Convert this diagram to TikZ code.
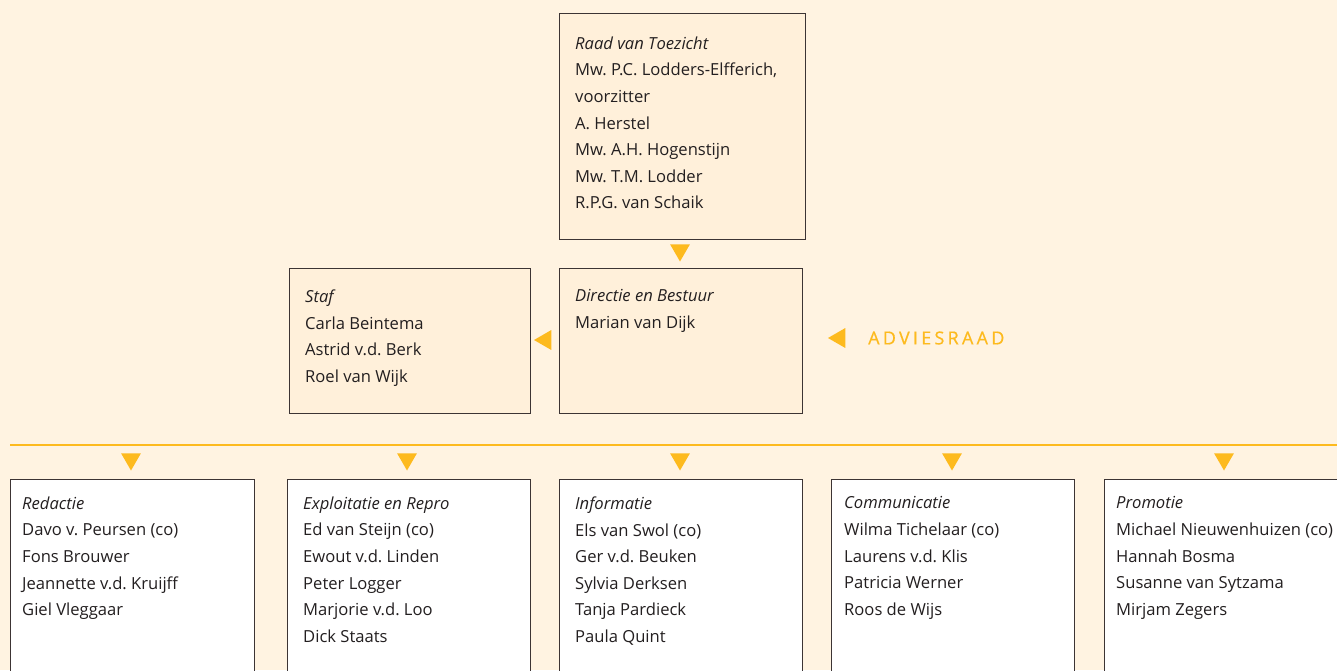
\documentclass[tikz,border=0pt]{standalone}
\usepackage{fontspec}
\setmainfont{Open Sans}
\usetikzlibrary{shapes.geometric,calc}
\definecolor{bg}{HTML}{FFF3E1}
\definecolor{topfill}{HTML}{FFF0DA}
\definecolor{gold}{HTML}{FDBA1E}
\definecolor{ink}{HTML}{231F20}
\definecolor{edge}{HTML}{3C3434}
\frenchspacing
\begin{document}
\begin{tikzpicture}[x=1pt,y=-1pt,
  box/.style={draw=edge, line width=1.2pt, anchor=north west, inner sep=0pt},
  topbox/.style={box, fill=topfill},
  botbox/.style={box, fill=white, minimum height=230pt},
  txt/.style={anchor=north west, inner sep=0pt, align=left, font=\fontsize{16.6}{26.6}\selectfont, text=ink},
  tridown/.style={regular polygon, regular polygon sides=3, shape border rotate=180, fill=gold, minimum size=23pt, inner sep=0pt},
  trileft/.style={regular polygon, regular polygon sides=3, shape border rotate=90, fill=gold, minimum size=23pt, inner sep=0pt},
]
\fill[bg] (0,0) rectangle (1337,670);
\useasboundingbox (0,0) rectangle (1337,670);
\clip (0,0) rectangle (1337,670);

% top boxes
\node[topbox, minimum width=246pt, minimum height=226pt] (raad) at (559,13) {};
\node[topbox, minimum width=241pt, minimum height=145pt] (staf) at (289,268) {};
\node[topbox, minimum width=243pt, minimum height=145pt] (dir) at (559,268) {};

\node[txt] (raadt) at ($(raad.north west)+(16,23.5)$) {\textit{Raad van Toezicht}\\Mw. P.C. Lodders-Elfferich,\\voorzitter\\A. Herstel\\Mw. A.H. Hogenstijn\\Mw. T.M. Lodder\\R.P.G. van Schaik};
\node[txt] (staft) at ($(staf.north west)+(16,21.5)$) {\textit{Staf}\\Carla Beintema\\Astrid v.d. Berk\\Roel van Wijk};
\node[txt] (dirt) at ($(dir.north west)+(16,21.5)$) {\textit{Directie en Bestuur}\\Marian van Dijk};

\node[tridown] (t0) at (680,250) {};
\node[trileft] (tl) at (545.5,340) {};
\node[trileft] (ta) at (839.5,338) {};
\node[anchor=west, inner sep=0pt, text=gold, font=\fontsize{18}{20}\selectfont\addfontfeature{LetterSpace=18,FakeBold=0.6}] (advies) at (868,338) {ADVIESRAAD};

% separator
\coordinate (lineL) at (10,445);
\coordinate (lineR) at (1337,445);
\draw[gold, line width=1.3pt] (lineL) -- (lineR);

% bottom boxes
\node[botbox, minimum width=244pt] (red) at (10,479) {};
\node[botbox, minimum width=243pt] (exp) at (287,479) {};
\node[botbox, minimum width=243pt] (inf) at (559,479) {};
\node[botbox, minimum width=243pt] (com) at (831,479) {};
\node[botbox, minimum width=260pt] (pro) at (1104,479) {};

\node[tridown] (t1) at (131,459) {};
\node[tridown] (t2) at (407,459) {};
\node[tridown] (t3) at (680,459) {};
\node[tridown] (t4) at (952,459) {};
\node[tridown] (t5) at (1224,459) {};

\node[txt] (redt) at ($(red.north west)+(12,17.5)$) {\textit{Redactie}\\Davo v. Peursen (co)\\Fons Brouwer\\Jeannette v.d. Kruijff\\Giel Vleggaar};
\node[txt] (expt) at ($(exp.north west)+(16,17.5)$) {\textit{Exploitatie en Repro}\\Ed van Steijn (co)\\Ewout v.d. Linden\\Peter Logger\\Marjorie v.d. Loo\\Dick Staats};
\node[txt] (inft) at ($(inf.north west)+(16,17.5)$) {\textit{Informatie}\\Els van Swol (co)\\Ger v.d. Beuken\\Sylvia Derksen\\Tanja Pardieck\\Paula Quint};
\node[txt] (comt) at ($(com.north west)+(13,17.5)$) {\textit{Communicatie}\\Wilma Tichelaar (co)\\Laurens v.d. Klis\\Patricia Werner\\Roos de Wijs};
\node[txt] (prot) at ($(pro.north west)+(12,17.5)$) {\textit{Promotie}\\Michael Nieuwenhuizen (co)\\Hannah Bosma\\Susanne van Sytzama\\Mirjam Zegers};
\end{tikzpicture}
\end{document}
